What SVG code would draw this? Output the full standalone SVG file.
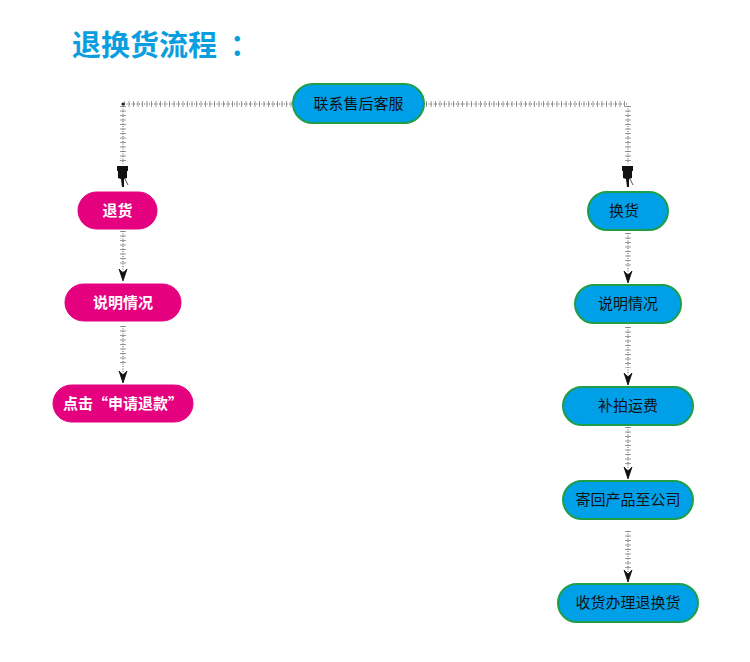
<svg xmlns="http://www.w3.org/2000/svg" width="750" height="662" viewBox="0 0 750 662">
<style>
.title{font-family:"Noto Sans CJK SC","Liberation Sans",sans-serif;font-size:29px;font-weight:bold;fill:#0a9ee0}
.pink{fill:#e4007f;stroke:#e4007f;stroke-width:1}
.blue{fill:#00a0e9;stroke:#1f9e48;stroke-width:2}
.tw{font-family:"Noto Sans CJK SC","Liberation Sans",sans-serif;font-size:15px;font-weight:bold;fill:#fff;text-anchor:middle}
.tb{font-family:"Noto Sans CJK SC","Liberation Sans",sans-serif;font-size:15px;fill:#111;text-anchor:middle}
.tick{fill:none;stroke:#999;stroke-width:6;stroke-dasharray:1 3.5}
.core{fill:none;stroke:#555;stroke-width:1;stroke-dasharray:1 1.5}
</style>
<defs>
<marker id="arr" markerWidth="14" markerHeight="10" refX="13" refY="5" orient="auto" markerUnits="userSpaceOnUse">
<path d="M1,1 L13,5 L1,9 L5,5 Z" fill="#111" stroke="#111" stroke-width="0.8"/>
</marker>
<symbol id="hand" viewBox="0 0 12 22">
<rect x="0" y="0" width="11" height="5" fill="#111"/>
<path d="M1,5 L10,5 L10,12 L7,13 L7,21 L5,21 L4,13 L1,12 Z" fill="#111"/>
<path d="M8,13 L11,19" stroke="#555" stroke-width="1" fill="none"/>
</symbol>
</defs>

<text class="title" x="72" y="56">退换货流程<tspan x="230">：</tspan></text>

<g id="connectors">
<path class="tick" d="M124,104 H292"/>
<path class="core" d="M124,104 H292"/>
<path class="tick" d="M123,106 V164"/>
<path class="core" d="M123,106 V164"/>
<circle cx="123" cy="104" r="1.6" fill="#222"/>
<use href="#hand" x="117" y="166" width="12" height="22"/>

<path class="tick" d="M426,104 H628"/>
<path class="core" d="M426,104 H628"/>
<path class="tick" d="M628,106 V164"/>
<path class="core" d="M628,106 V164"/>
<use href="#hand" x="622" y="166" width="12" height="22"/>

<path class="tick" d="M123,231 V266"/>
<path class="core" d="M123,231 V281" marker-end="url(#arr)"/>
<path class="tick" d="M123,326 V366"/>
<path class="core" d="M123,326 V383" marker-end="url(#arr)"/>

<path class="tick" d="M628,233 V268"/>
<path class="core" d="M628,233 V283" marker-end="url(#arr)"/>
<path class="tick" d="M628,327 V368"/>
<path class="core" d="M628,327 V385" marker-end="url(#arr)"/>
<path class="tick" d="M628,427 V464"/>
<path class="core" d="M628,427 V479" marker-end="url(#arr)"/>
<path class="tick" d="M628,531 V568"/>
<path class="core" d="M628,531 V582" marker-end="url(#arr)"/>
</g>

<g id="n-contact">
<rect class="blue" x="293" y="84" width="131" height="39" rx="19.5"/>
<text class="tb" x="358.5" y="109">联系售后客服</text>
</g>

<g id="n-return">
<rect class="pink" x="78" y="192" width="79" height="37" rx="18.5"/>
<text class="tw" x="117.5" y="216">退货</text>
</g>
<g id="n-explain-l">
<rect class="pink" x="65" y="284" width="116" height="37" rx="18.5"/>
<text class="tw" x="123" y="308">说明情况</text>
</g>
<g id="n-refund">
<rect class="pink" x="53" y="385" width="140" height="37" rx="18.5"/>
<text class="tw" x="123" y="409">点击“申请退款”</text>
</g>

<g id="n-exchange">
<rect class="blue" x="588" y="192" width="80" height="38" rx="19"/>
<text class="tb" x="624" y="216">换货</text>
</g>
<g id="n-explain-r">
<rect class="blue" x="575" y="285" width="106" height="38" rx="19"/>
<text class="tb" x="628" y="309">说明情况</text>
</g>
<g id="n-shipping">
<rect class="blue" x="563" y="387" width="130" height="38" rx="19"/>
<text class="tb" x="628" y="411">补拍运费</text>
</g>
<g id="n-sendback">
<rect class="blue" x="563" y="481" width="130" height="38" rx="19"/>
<text class="tb" x="628" y="505">寄回产品至公司</text>
</g>
<g id="n-receive">
<rect class="blue" x="558" y="584" width="140" height="38" rx="19"/>
<text class="tb" x="628" y="608">收货办理退换货</text>
</g>
</svg>
